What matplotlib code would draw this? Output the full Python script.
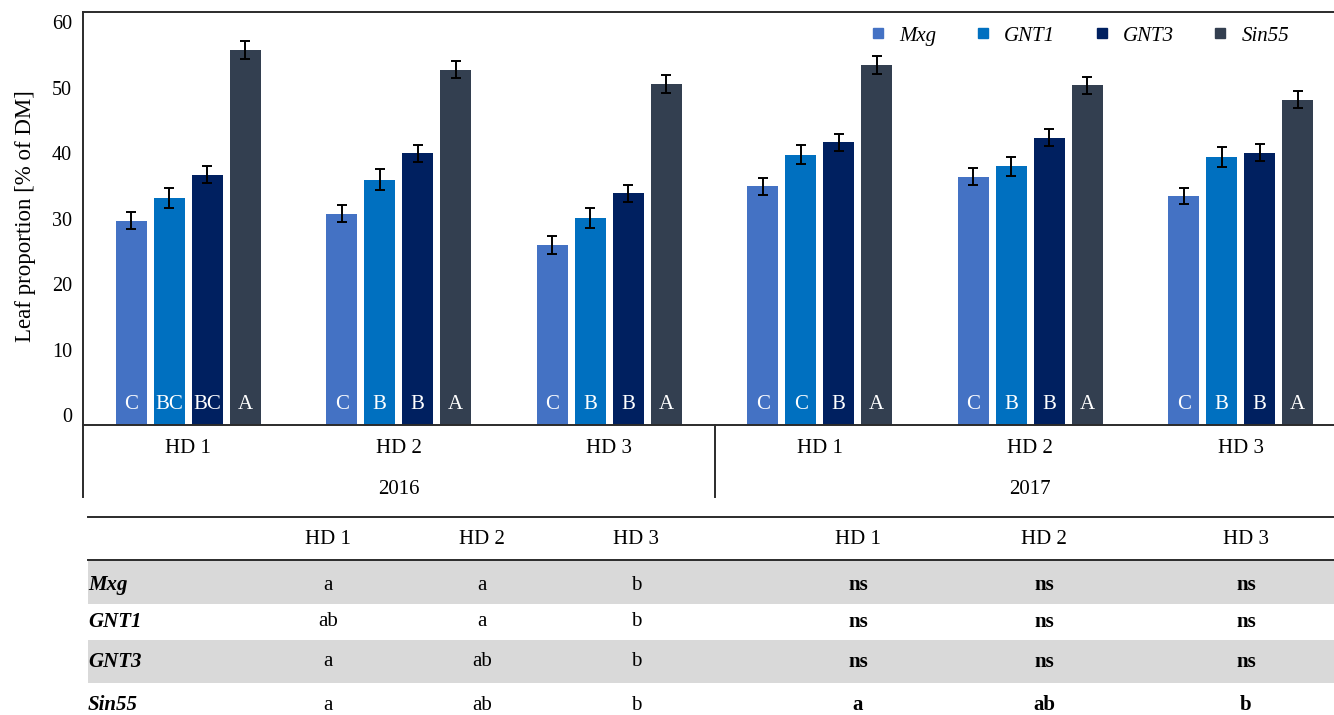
import numpy as np
import matplotlib
matplotlib.use("Agg")
import matplotlib.pyplot as plt
from matplotlib.lines import Line2D
from matplotlib.patches import Rectangle
import matplotlib.transforms as mtransforms

plt.rcParams['font.family'] = ['Liberation Serif', 'DejaVu Serif']

# Данные: доля листьев [% от сухого вещества], 2016 HD1-3, 2017 HD1-3
harvests = ['HD 1', 'HD 2', 'HD 3', 'HD 1', 'HD 2', 'HD 3']
years = ['2016', '2017']
genotypes = ['Mxg', 'GNT1', 'GNT3', 'Sin55']

mxg = [29.7, 30.8, 26.0, 35.0, 36.4, 33.5]
gnt1 = [33.2, 36.0, 30.2, 39.8, 38.0, 39.4]
gnt3 = [36.7, 40.0, 33.9, 41.7, 42.4, 40.1]
sin55 = [55.8, 52.8, 50.6, 53.5, 50.4, 48.2]

mxg_err = [1.30, 1.35, 1.30, 1.30, 1.30, 1.27]
gnt1_err = [1.57, 1.58, 1.53, 1.48, 1.48, 1.53]
gnt3_err = [1.30, 1.33, 1.27, 1.27, 1.27, 1.27]
sin55_err = [1.35, 1.33, 1.33, 1.33, 1.33, 1.30]

# Буквы значимости внутри столбцов
mxg_sig = ['C', 'C', 'C', 'C', 'C', 'C']
gnt1_sig = ['BC', 'B', 'B', 'C', 'B', 'B']
gnt3_sig = ['BC', 'B', 'B', 'B', 'B', 'B']
sin55_sig = ['A', 'A', 'A', 'A', 'A', 'A']

# Таблица сравнения сроков уборки
table_rows = ['Mxg', 'GNT1', 'GNT3', 'Sin55']
table_mxg = ['a', 'a', 'b', 'ns', 'ns', 'ns']
table_gnt1 = ['ab', 'a', 'b', 'ns', 'ns', 'ns']
table_gnt3 = ['a', 'ab', 'b', 'ns', 'ns', 'ns']
table_sin55 = ['a', 'ab', 'b', 'a', 'ab', 'b']

colors = ['#4472C4', '#0070C0', '#002060', '#333F50']
line_col = '#2b2b2b'
fs = 15

W, H = 1334, 715
fig = plt.figure(figsize=(W / 100, H / 100), dpi=100)

# Ось немного выходит за правый край рисунка
ax = fig.add_axes([83 / W, (H - 425) / H, (1346 - 83) / W, (425 - 12) / H])

y_floor = -1.5
x = np.arange(len(harvests))
step = 0.1805
bar_w = 0.147

values = [mxg, gnt1, gnt3, sin55]
errors = [mxg_err, gnt1_err, gnt3_err, sin55_err]
letters = [mxg_sig, gnt1_sig, gnt3_sig, sin55_sig]

for i in range(4):
    pos = x + (i - 1.5) * step
    v = np.array(values[i])
    ax.bar(pos, v - y_floor, bottom=y_floor, width=bar_w, color=colors[i],
           edgecolor='none', label=genotypes[i], zorder=2)
    ax.errorbar(pos, v, yerr=errors[i], fmt='none', ecolor='black',
                elinewidth=1.4, capsize=3.8, capthick=1.4, zorder=3)
    for j in range(len(pos)):
        ax.text(pos[j], 1.6, letters[i][j], ha='center', va='center',
                color='white', fontsize=fs, zorder=4)

ax.set_xlim(-0.5, 5.5)
ax.set_ylim(y_floor, 61.6)
ax.set_yticks(range(0, 61, 10))
ax.tick_params(axis='y', length=0, labelsize=14.5, pad=8)
ax.set_xticks([])
for s in ['left', 'top', 'bottom', 'right']:
    ax.spines[s].set_color(line_col)
    ax.spines[s].set_linewidth(1.4)

ax.set_ylabel('Leaf proportion [% of DM]', fontsize=16.5)
ax.yaxis.set_label_coords(-0.037, 0.505)

# Подписи категорий под осью
trans = mtransforms.blended_transform_factory(ax.transData, ax.transAxes)
for j, h in enumerate(harvests):
    ax.text(x[j], -0.057, h, transform=trans, ha='center', va='center', fontsize=fs)
ax.text(1, -0.156, years[0], transform=trans, ha='center', va='center', fontsize=fs)
ax.text(4, -0.156, years[1], transform=trans, ha='center', va='center', fontsize=fs)
ax.plot([-0.5, -0.5], [0, -0.174], transform=trans, color=line_col, lw=1.4, clip_on=False)
ax.plot([2.5, 2.5], [0, -0.174], transform=trans, color=line_col, lw=1.4, clip_on=False)

# Легенда
handles = [Line2D([], [], marker='s', linestyle='none', markersize=7,
                  markerfacecolor=c, markeredgecolor=c) for c in colors]
leg = fig.legend(handles, genotypes, loc='center right',
                 bbox_to_anchor=(1289 / W, 1 - 36 / H), ncol=4, frameon=False,
                 handlelength=0.8, handletextpad=0.6, columnspacing=1.85,
                 borderpad=0, borderaxespad=0, prop={'style': 'italic', 'size': fs})


# Таблица внизу (координаты в пикселях рисунка)
def fy(py):
    return 1 - py / H


col_x = [328, 482, 636, 858, 1044, 1246]
fig.add_artist(Line2D([88 / W, 1], [fy(517), fy(517)], color=line_col, lw=1.4))
for top, bot in [(560, 604), (640, 683)]:
    fig.add_artist(Rectangle((88 / W, fy(bot)), 1 - 88 / W, (bot - top) / H,
                             facecolor='#d9d9d9', edgecolor='none',
                             transform=fig.transFigure))
fig.add_artist(Line2D([88 / W, 1], [fy(560), fy(560)], color=line_col, lw=1.4))

for j, h in enumerate(harvests):
    fig.text(col_x[j] / W, fy(540), h, ha='center', va='center', fontsize=fs)

row_y = [585, 622, 662, 705]
table_vals = [table_mxg, table_gnt1, table_gnt3, table_sin55]
for r in range(4):
    fig.text(88 / W, fy(row_y[r]), table_rows[r], ha='left', va='center',
             fontsize=fs, fontweight='bold', style='italic')
    for j in range(6):
        fig.text(col_x[j] / W, fy(row_y[r]), table_vals[r][j], ha='center',
                 va='center', fontsize=fs,
                 fontweight='bold' if j >= 3 else 'normal')

plt.savefig('out.png', dpi=100)
